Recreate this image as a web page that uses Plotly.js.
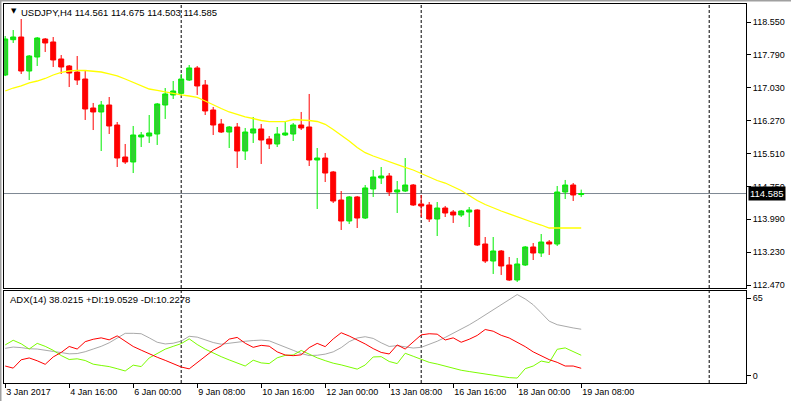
<!DOCTYPE html>
<html><head><meta charset="utf-8">
<script src="https://cdn.plot.ly/plotly-3.0.1.min.js"></script>
<style>html,body{margin:0;padding:0;background:#fff;overflow:hidden}#chart{width:791px;height:401px}</style>
</head><body><div id="chart"></div>
<script>
// ---- data (H4 bars, index 0 = 3 Jan 2017 08:00) ----
const symbol = 'USDJPY';
const timeframe = 'H4';
const openP = [117.325,118.141,118.203,117.417,117.741,118.157,118.088,117.695,117.533,117.394,
  117.232,116.562,116.470,116.631,116.169,115.429,115.314,115.892,115.915,115.961,
  116.631,116.863,116.901,117.209,117.487,117.094,116.516,116.192,116.007,116.123,
  115.568,115.984,116.077,115.845,115.730,115.938,115.961,116.169,116.123,115.360,
  115.406,115.083,114.435,113.950,114.505,114.019,114.690,114.944,114.990,114.620,
  114.643,114.782,114.343,114.320,113.996,114.250,114.158,114.089,114.158,114.204,
  113.418,113.025,113.256,112.933,112.586,112.933,113.349,113.210,113.464,113.418,
  114.620,114.782,114.561];
const highP = [118.226,118.365,118.619,117.787,118.203,118.180,118.203,117.787,117.556,117.764,
  117.440,116.678,116.724,116.816,116.238,115.730,116.146,116.007,116.400,116.678,
  117.024,117.186,117.348,117.556,117.533,117.209,116.585,116.308,116.146,116.215,
  116.100,116.354,116.192,115.915,116.123,116.261,116.215,116.470,116.886,115.637,
  115.522,115.106,114.643,114.528,114.528,114.782,115.129,115.198,115.059,114.875,
  115.406,114.805,114.551,114.389,114.389,114.297,114.204,114.204,114.273,114.220,
  113.580,113.580,113.279,113.118,113.095,113.372,113.441,113.649,113.510,114.759,
  114.898,114.828,114.675];
const lowP = [117.300,118.065,117.348,117.209,117.533,117.857,117.510,117.348,117.047,117.094,
  116.285,116.053,115.568,115.961,115.198,115.268,115.059,115.660,115.753,115.707,
  116.308,116.770,116.863,117.186,116.863,116.400,115.938,115.984,115.637,115.175,
  115.360,115.753,115.268,115.614,115.660,115.915,115.799,116.053,115.221,114.227,
  114.851,114.366,113.742,113.880,113.788,113.996,114.505,114.805,114.528,114.135,
  114.620,114.297,114.042,113.927,113.603,114.042,113.904,114.042,113.811,113.372,
  112.979,112.725,112.702,112.563,112.540,112.910,113.048,113.118,113.164,113.372,
  114.458,114.412,114.503];
const closeP = [118.157,118.203,117.417,117.764,118.180,118.065,117.672,117.510,117.371,117.209,
  116.539,116.470,116.631,116.146,115.406,115.314,115.938,115.938,115.984,116.655,
  116.886,116.955,117.232,117.487,117.071,116.493,116.169,116.007,116.123,115.568,
  116.007,116.077,115.822,115.730,115.961,115.984,116.169,116.100,115.360,115.406,
  115.059,114.412,113.950,114.505,114.019,114.713,114.967,114.990,114.620,114.667,
  114.782,114.320,114.297,113.996,114.250,114.135,114.089,114.181,114.204,113.395,
  113.025,113.256,112.910,112.586,112.956,113.349,113.210,113.464,113.418,114.620,
  114.782,114.551,114.585];
const maValues = [116.955,117.024,117.071,117.140,117.186,117.244,117.325,117.383,117.417,117.433,
  117.429,117.417,117.394,117.348,117.302,117.232,117.151,117.071,117.001,116.967,
  116.932,116.886,116.863,116.839,116.805,116.724,116.631,116.550,116.470,116.412,
  116.354,116.319,116.273,116.245,116.238,116.245,116.296,116.292,116.273,116.250,
  116.185,116.065,115.938,115.799,115.649,115.529,115.452,115.383,115.325,115.256,
  115.187,115.129,115.048,114.967,114.886,114.828,114.747,114.655,114.539,114.424,
  114.331,114.250,114.181,114.112,114.042,113.985,113.915,113.857,113.788,113.788,
  113.788,113.788,113.788];
const adxValues = [24.5,25.4,25.0,24.2,24.0,23.4,22.3,21.5,20.6,20.8,
  22.1,24.0,25.9,28.4,31.8,35.1,35.1,34.8,31.9,28.8,
  27.6,28.1,29.6,33.0,32.4,30.6,28.6,27.4,28.2,28.9,
  29.5,30.0,30.3,29.8,27.7,25.4,23.1,20.8,19.4,19.6,
  20.4,22.0,25.0,29.2,31.8,32.7,31.5,28.4,25.8,26.4,
  25.7,24.7,25.2,27.1,29.5,32.2,35.0,37.9,41.1,44.5,
  48.1,51.8,55.5,58.9,62.5,59.4,55.3,49.6,43.7,41.2,
  39.8,38.9,38.0];
const plusDI = [26.9,30.2,27.7,24.0,28.0,25.9,23.1,19.4,16.6,17.1,
  15.9,13.3,12.4,11.6,10.1,8.5,12.6,11.6,17.7,21.1,
  23.9,25.9,27.8,31.2,27.2,23.9,21.1,18.6,16.3,14.1,
  12.0,16.1,14.2,13.7,17.8,19.5,19.8,23.0,20.4,17.8,
  15.8,14.0,12.8,11.2,9.8,12.7,18.4,18.6,15.2,13.7,
  21.0,18.9,16.7,14.6,13.4,11.8,10.4,9.0,8.1,7.2,
  6.3,5.3,4.4,3.8,3.5,10.1,12.0,15.5,14.4,23.8,
  24.8,22.2,19.6];
const minusDI = [12.0,10.5,16.4,17.7,15.7,13.2,18.4,21.6,25.8,24.0,
  29.2,30.9,31.9,30.5,33.3,29.5,25.8,23.2,20.6,18.2,
  16.0,13.7,11.3,10.0,14.6,19.2,23.2,26.2,31.0,32.2,
  28.1,25.2,26.6,26.0,22.0,19.8,19.3,19.9,25.0,28.0,
  25.7,31.1,35.5,33.2,30.6,27.6,24.3,21.6,20.5,26.9,
  24.0,29.1,34.0,34.8,34.5,30.4,31.9,28.8,30.9,33.6,
  37.8,36.6,33.7,31.8,29.0,25.7,22.0,19.2,16.5,14.6,
  12.0,12.0,10.4];
const adxTitle = 'ADX(14) 38.0215 +DI:19.0529 -DI:10.2278';
const tickBars = [0,8,16,24,32,40,48,56,64,72];
const tickLabels = ['3 Jan 2017','4 Jan 16:00','6 Jan 00:00','9 Jan 08:00','10 Jan 16:00',
  '12 Jan 00:00','13 Jan 08:00','16 Jan 16:00','18 Jan 00:00','19 Jan 08:00'];
const priceTicks = [112.470,113.230,113.990,114.750,115.510,116.270,117.030,117.790,118.550];
const separatorBars = [22,52,88];

// ---- layout helpers (pixel -> paper) ----
const W = 791, H = 401;
const fx = px => px / W;
const fy = py => 1 - py / H;
const bars = openP.map((_, i) => i);
const last = openP.length - 1;
const lastPrice = closeP[last];
const font = 'Liberation Sans, Arial, sans-serif';
const xr = [-0.15, 92.6];

const traces = [
  {type:'candlestick', x:bars, open:openP, high:highP, low:lowP, close:closeP,
   xaxis:'x', yaxis:'y', whiskerwidth:0, showlegend:false, hoverinfo:'skip',
   increasing:{line:{color:'#00EE00', width:1}, fillcolor:'#32CD32'},
   decreasing:{line:{color:'#FF0000', width:1}, fillcolor:'#FF0000'}},
  {type:'scatter', mode:'lines', x:bars, y:maValues, xaxis:'x', yaxis:'y',
   line:{color:'#FFFF00', width:1.3}, showlegend:false, hoverinfo:'skip'},
  {type:'scatter', mode:'lines', x:bars, y:adxValues, xaxis:'x2', yaxis:'y2',
   line:{color:'#A9A9A9', width:1}, showlegend:false, hoverinfo:'skip'},
  {type:'scatter', mode:'lines', x:bars, y:plusDI, xaxis:'x2', yaxis:'y2',
   line:{color:'#7CFC00', width:1}, showlegend:false, hoverinfo:'skip'},
  {type:'scatter', mode:'lines', x:bars, y:minusDI, xaxis:'x2', yaxis:'y2',
   line:{color:'#FF0000', width:1}, showlegend:false, hoverinfo:'skip'}
];

const axisCommon = {showgrid:false, zeroline:false, showline:true, mirror:true,
  linecolor:'#000', linewidth:1, fixedrange:true};

const shapes = [
  {type:'line', xref:'paper', yref:'y', x0:fx(4), x1:fx(746), y0:lastPrice, y1:lastPrice,
   line:{color:'#7D8893', width:1}, layer:'below'},
  {type:'line', xref:'paper', yref:'paper', x0:0, x1:1, y0:fy(0.5), y1:fy(0.5),
   line:{color:'#A0A0A0', width:2}},
  {type:'line', xref:'paper', yref:'paper', x0:fx(0.5), x1:fx(0.5), y0:0, y1:1,
   line:{color:'#A0A0A0', width:2}}
];
separatorBars.forEach(b => shapes.push({type:'line', xref:'x', yref:'paper', x0:b, x1:b,
  y0:fy(383), y1:fy(4), line:{color:'#000', width:1, dash:'3px,2px'}, layer:'below'}));

const layout = {
  width:W, height:H, margin:{l:0, r:0, t:0, b:0},
  paper_bgcolor:'#fff', plot_bgcolor:'#fff', showlegend:false,
  boxgap:0.375, boxgroupgap:0,
  font:{family:font, size:9, color:'#000'},
  xaxis:Object.assign({}, axisCommon, {domain:[fx(4), fx(746)], range:xr, anchor:'y',
    showticklabels:false, ticks:'', rangeslider:{visible:false}}),
  yaxis:Object.assign({}, axisCommon, {domain:[fy(288), fy(4)], range:[112.401, 118.966],
    side:'right', anchor:'x', tickvals:priceTicks, ticktext:priceTicks.map(v => v.toFixed(3)),
    ticks:'outside', ticklen:4, tickcolor:'#000', tickfont:{family:font, size:9, color:'#000'}}),
  xaxis2:Object.assign({}, axisCommon, {domain:[fx(4), fx(746)], range:xr, anchor:'y2',
    tickvals:tickBars, ticktext:tickLabels, ticks:'outside', ticklen:4, tickcolor:'#000',
    ticklabelposition:'outside right', tickfont:{family:font, size:9, color:'#000'}}),
  yaxis2:Object.assign({}, axisCommon, {domain:[fy(383), fy(291)], range:[0, 65],
    side:'right', anchor:'x2', tickvals:[59.9, 5.2], ticktext:['65', '0'],
    ticks:'outside', ticklen:4, tickcolor:'#000', tickfont:{family:font, size:9, color:'#000'}}),
  shapes:shapes,
  annotations:[
    {xref:'paper', yref:'paper', x:fx(9), y:fy(11), xanchor:'left', yanchor:'middle',
     text:'▼', showarrow:false, font:{family:'DejaVu Sans', size:7, color:'#000'}},
    {xref:'paper', yref:'paper', x:fx(19), y:fy(12), xanchor:'left', yanchor:'middle',
     text:symbol + ',' + timeframe + ' ' + [openP[last], highP[last], lowP[last], closeP[last]].map(v => v.toFixed(3)).join(' '),
     showarrow:false, font:{family:font, size:9.5, color:'#000'}},
    {xref:'paper', yref:'paper', x:fx(8), y:fy(299), xanchor:'left', yanchor:'middle',
     text:adxTitle, showarrow:false, font:{family:font, size:9.5, color:'#000'}},
    {xref:'paper', yref:'y', x:fx(748), y:lastPrice, xanchor:'left', yanchor:'middle',
     text:lastPrice.toFixed(3), showarrow:false, bgcolor:'#000', borderpad:1,
     font:{family:font, size:9.5, color:'#fff'}}
  ]
};

Plotly.newPlot('chart', traces, layout, {staticPlot:true, displayModeBar:false});
</script></body></html>
